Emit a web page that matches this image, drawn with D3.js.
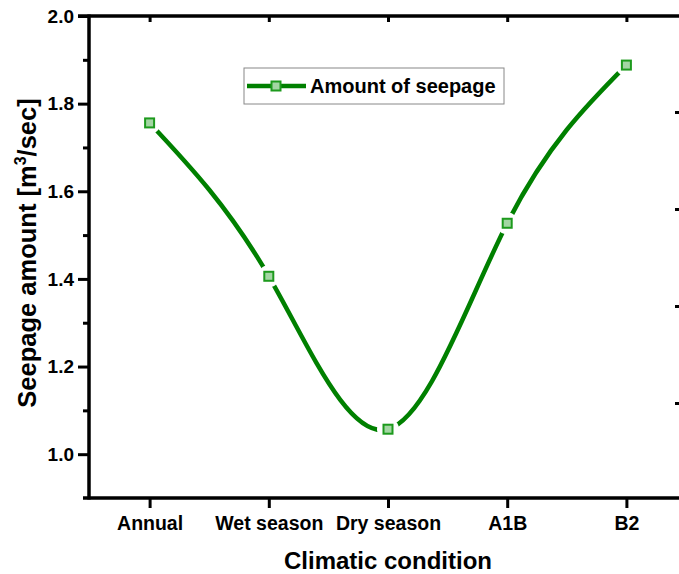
<!DOCTYPE html>
<html>
<head>
<meta charset="utf-8">
<script src="https://cdn.jsdelivr.net/npm/d3@7"></script>
<style>
  body { margin: 0; background: #fff; }
  svg { display: block; font-family: "Liberation Sans", Arial, sans-serif; font-weight: bold; }
</style>
</head>
<body>
<div id="app"></div>
<script>
const categories = ['Annual', 'Wet season', 'Dry season', 'A1B', 'B2']
const seepage = [1.756, 1.406, 1.057, 1.527, 1.888]
const yTicks = [1.0, 1.2, 1.4, 1.6, 1.8, 2.0]
const yMinor = [1.1, 1.3, 1.5, 1.7, 1.9]
const rightTicks = [1, 2, 3, 4]

const W = 679, H = 574
const plotLeft = 89, plotTop = 16, plotBottom = 498

const svg = d3.select('#app')
  .append('svg')
  .attr('width', W)
  .attr('height', H)

const x = d3.scalePoint()
  .domain(categories)
  .range([90, 686])
  .padding(0.5)

const y = d3.scaleLinear()
  .domain([0.9, 2.0])
  .range([plotBottom, plotTop])

// right axis sits just outside the picture, only its inner ticks show
const yRight = d3.scaleLinear()
  .domain([0, 5])
  .range([500, 15])

const data = categories.map((c, i) => ({ c, v: seepage[i] }))

// axes
const axisStyle = g => {
  g.select('.domain').remove()
  g.selectAll('line').attr('stroke', '#000').attr('stroke-width', 3)
  g.selectAll('text').attr('fill', '#000').style('font-weight', 'bold')
}

svg.append('g')
  .attr('transform', `translate(${plotLeft},0)`)
  .call(d3.axisLeft(y).tickValues(yTicks).tickFormat(d3.format('.1f')).tickSize(11).tickPadding(4))
  .call(axisStyle)
  .selectAll('text').style('font-size', '19px')

svg.append('g')
  .attr('transform', `translate(${plotLeft},0)`)
  .call(d3.axisLeft(y).tickValues(yMinor).tickFormat('').tickSize(6))
  .call(axisStyle)

svg.append('g')
  .attr('transform', `translate(0,${plotBottom})`)
  .call(d3.axisBottom(x).tickSize(10).tickPadding(8))
  .call(axisStyle)
  .selectAll('text').style('font-size', '19.5px')

svg.append('g')
  .attr('transform', `translate(0,${plotTop})`)
  .call(d3.axisBottom(x).tickSize(6).tickFormat(''))
  .call(axisStyle)

svg.append('g')
  .attr('transform', `translate(${W + 2},0)`)
  .call(d3.axisLeft(yRight).tickValues(rightTicks).tickSize(6).tickFormat(''))
  .call(axisStyle)

// axis lines
svg.append('line')
  .attr('x1', plotLeft).attr('x2', plotLeft)
  .attr('y1', plotTop - 1.5).attr('y2', plotBottom + 1.5)
  .attr('stroke', '#000').attr('stroke-width', 3.5)
svg.append('line')
  .attr('x1', 83).attr('x2', W)
  .attr('y1', plotBottom).attr('y2', plotBottom)
  .attr('stroke', '#000').attr('stroke-width', 3.5)
svg.append('line')
  .attr('x1', 78).attr('x2', W)
  .attr('y1', plotTop).attr('y2', plotTop)
  .attr('stroke', '#000').attr('stroke-width', 3.5)

// gaps in the line around each symbol
const mask = svg.append('defs').append('mask').attr('id', 'gaps')
mask.append('rect').attr('width', W).attr('height', H).attr('fill', '#fff')
mask.selectAll('circle')
  .data(data)
  .enter().append('circle')
  .attr('cx', d => x(d.c))
  .attr('cy', d => y(d.v))
  .attr('r', 11)
  .attr('fill', '#000')

const line = d3.line()
  .x(d => x(d.c))
  .y(d => y(d.v))
  .curve(d3.curveNatural)

svg.append('path')
  .datum(data)
  .attr('d', line)
  .attr('fill', 'none')
  .attr('stroke', '#008000')
  .attr('stroke-width', 4.5)
  .attr('mask', 'url(#gaps)')

svg.selectAll('rect.pt')
  .data(data)
  .enter().append('rect')
  .attr('class', 'pt')
  .attr('x', d => x(d.c) - 4.5)
  .attr('y', d => y(d.v) - 4.5)
  .attr('width', 9)
  .attr('height', 9)
  .attr('fill', '#a3d6a3')
  .attr('stroke', '#1d9a1d')
  .attr('stroke-width', 2)

// legend
const lg = svg.append('g').attr('transform', 'translate(244,68)')
lg.append('rect')
  .attr('width', 260).attr('height', 36)
  .attr('fill', '#fff').attr('stroke', '#888').attr('stroke-width', 1)
lg.append('line')
  .attr('x1', 3).attr('x2', 62).attr('y1', 18).attr('y2', 18)
  .attr('stroke', '#008000').attr('stroke-width', 4.5)
lg.append('rect')
  .attr('x', 27.5).attr('y', 13.5).attr('width', 9).attr('height', 9)
  .attr('fill', '#a3d6a3').attr('stroke', '#1d9a1d').attr('stroke-width', 2)
lg.append('text')
  .attr('x', 66).attr('y', 25)
  .style('font-size', '20px')
  .text('Amount of seepage')

// titles
svg.append('text')
  .attr('x', 388).attr('y', 569)
  .attr('text-anchor', 'middle')
  .style('font-size', '24px')
  .text('Climatic condition')

const yt = svg.append('text')
  .attr('transform', 'translate(36,253) rotate(-90)')
  .attr('text-anchor', 'middle')
  .style('font-size', '25.5px')
yt.append('tspan').text('Seepage amount [m')
yt.append('tspan').attr('dy', -10).style('font-size', '16px').text('3')
yt.append('tspan').attr('dy', 10).text('/sec]')
</script>
</body>
</html>
